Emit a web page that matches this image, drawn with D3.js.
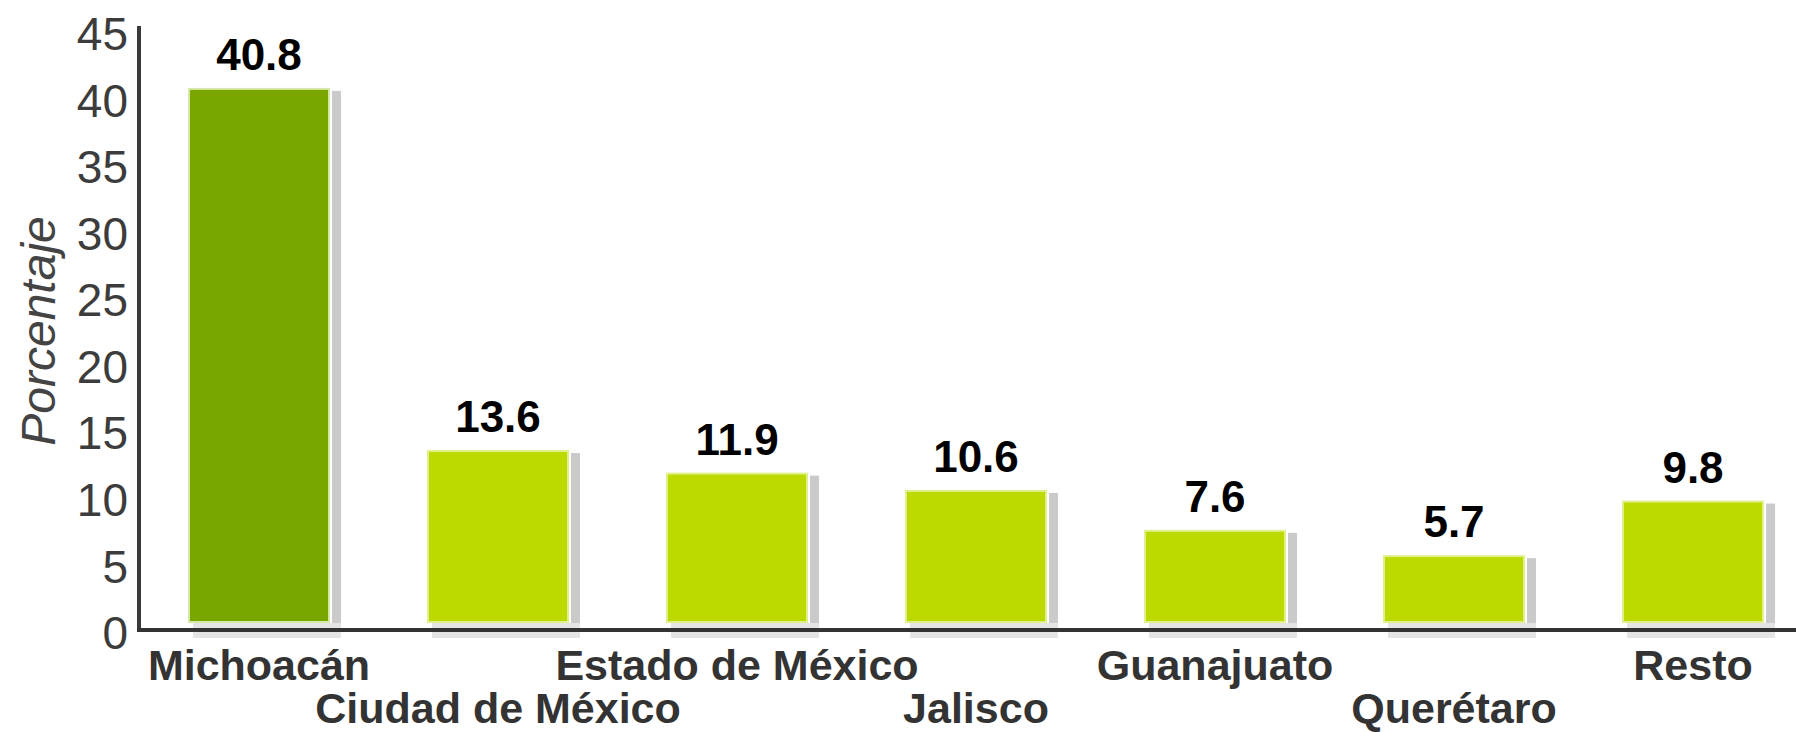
<!DOCTYPE html>
<html>
<head>
<meta charset="utf-8">
<script src="https://cdn.jsdelivr.net/npm/d3@7"></script>
<style>
  body { margin: 0; background: #fff; }
  svg { display: block; }
  text { font-family: "Liberation Sans", Arial, sans-serif; }
</style>
</head>
<body>
<svg></svg>
<script>
var width = 1796;
var height = 732;

// data
var estados = ["Michoacán", "Ciudad de México", "Estado de México", "Jalisco", "Guanajuato", "Querétaro", "Resto"];
var porcentajes = [40.8, 13.6, 11.9, 10.6, 7.6, 5.7, 9.8];
var yTicks = [0, 5, 10, 15, 20, 25, 30, 35, 40, 45];

var data = estados.map(function(d, i) { return {name: d, value: porcentajes[i], i: i}; });

var svg = d3.select("svg")
  .attr("width", width)
  .attr("height", height);

// scales
var x = d3.scaleBand()
  .domain(estados)
  .range([139.5, 1812.5])
  .paddingInner(0.414)
  .paddingOuter(0.207);

var y = d3.scaleLinear()
  .domain([0, 45])
  .range([632, 33]);

// shadows behind bars
svg.selectAll(".shadow-r")
  .data(data)
  .enter()
  .append("rect")
    .attr("x", d => x(d.name) + x.bandwidth() + 3)
    .attr("y", d => y(d.value) + 2)
    .attr("width", 9)
    .attr("height", d => y(0) - y(d.value) - 2)
    .attr("fill", "#cacaca");

svg.selectAll(".shadow-b")
  .data(data)
  .enter()
  .append("rect")
    .attr("x", d => x(d.name) + 4)
    .attr("y", y(0) - 9)
    .attr("width", d => x.bandwidth() + 8)
    .attr("height", 15)
    .attr("fill", "#e4e4e4");

// bars
svg.selectAll(".bar")
  .data(data)
  .enter()
  .append("rect")
    .attr("x", d => x(d.name))
    .attr("y", d => y(d.value))
    .attr("width", x.bandwidth())
    .attr("height", d => y(0) - y(d.value) - 10)
    .attr("fill", d => d.i === 0 ? "#7aa600" : "#bcd900")
    .attr("stroke", d => d.i === 0 ? "#d8e8a8" : "#e2f08c")
    .attr("stroke-width", 2);

// value labels
svg.selectAll(".val")
  .data(data)
  .enter()
  .append("text")
    .attr("x", d => x(d.name) + x.bandwidth() / 2)
    .attr("y", d => y(d.value) - 19)
    .attr("text-anchor", "middle")
    .attr("font-size", 44)
    .attr("font-weight", "bold")
    .attr("fill", "#000")
    .text(d => d.value.toFixed(1));

// y axis
var yAxis = svg.append("g")
  .attr("transform", "translate(139,0)")
  .call(d3.axisLeft(y).tickValues(yTicks).tickSize(0).tickSizeOuter(0).tickPadding(11));

yAxis.select(".domain")
  .attr("d", "M0," + (y(45) - 7) + "V" + y(0))
  .attr("stroke", "#3a3a3a")
  .attr("stroke-width", 4);

yAxis.selectAll("text")
  .attr("font-size", 46)
  .attr("fill", "#3c3c3c")
  .attr("dy", "0.36em")
  .style("font-family", "'Liberation Sans', Arial, sans-serif");

// x axis
var xAxis = svg.append("g")
  .attr("transform", "translate(0," + (y(0) - 2) + ")")
  .call(d3.axisBottom(x).tickSize(0).tickSizeOuter(0));

xAxis.select(".domain")
  .attr("d", "M137,0H" + width)
  .attr("stroke", "#333")
  .attr("stroke-width", 4);

xAxis.selectAll("text")
  .attr("y", (d, i) => i % 2 === 0 ? 50 : 93)
  .attr("dy", 0)
  .attr("font-size", 43)
  .attr("font-weight", "bold")
  .attr("fill", "#333")
  .style("font-family", "'Liberation Sans', Arial, sans-serif");

// y title
svg.append("text")
  .attr("transform", "translate(55,331) rotate(-90)")
  .attr("text-anchor", "middle")
  .attr("font-size", 48)
  .attr("font-style", "italic")
  .attr("fill", "#444")
  .text("Porcentaje");
</script>
</body>
</html>
